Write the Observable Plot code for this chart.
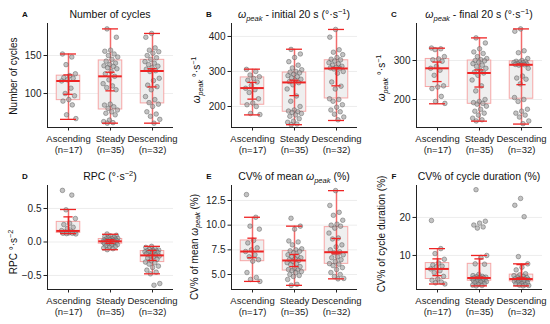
<!DOCTYPE html>
<html>
<head>
<meta charset="utf-8">
<script src="https://cdn.jsdelivr.net/npm/d3@7"></script>
<script src="https://cdn.jsdelivr.net/npm/@observablehq/plot@0.6"></script>
<style>
  html, body { margin: 0; padding: 0; background: #fff; }
  #chart { position: relative; width: 550px; height: 324px; background: #fff; overflow: hidden; }
  #chart svg { position: absolute; overflow: visible; }
</style>
</head>
<body>
<div id="chart"></div>
<script>
// ---------- data ----------
const categories = ["Ascending", "Steady", "Descending"];
const nLabels = ["(n=17)", "(n=35)", "(n=32)"];

// A: Number of cycles
const aAsc = [152,148,138,126,123.5,121,120,118,116.5,107,100,97,92,90,85,72,67];
const aSteady = [185,174,157,155.6,152,150,148,145,142.6,140,138,136.5,135.6,134,132.6,129,126,122.6,118,113,110,107.8,105,86,84.8,82.6,80.4,78.3,76,74,72,65,63,61.7,61];
const aDesc = [179,174,160,157,155,153,150,147,145,142,140,138,136,134,132,130,129,120,117,111,109,105,96,92,88,86,83,76,73,70,66,61];
// B: omega peak initial 20 s
const bAsc = [306,300,290,285,280,275,270,260,252,248,240,222,210,205,200,180,177];
const bSteady = [363,350,340,328,318,310,305,300,298,296,292,288,285,282,278,275,271,268,262,250,230,215,200,190,187,185,183,180,176,172,165,158,155,150,148];
const bDesc = [420,398,362,355,348,340,335,333,330,325,322,318,315,312,310,309,307,300,295,270,258,250,222,220,215,205,198,190,185,178,170,162];
// C: omega peak final 20 s
const cAsc = [332,330,328,310,304,302,298,285,280,275,262,235,232,228,208,195,190];
const cSteady = [358,345,330,322,318,310,305,302,300,299,296,292,288,285,280,275,270,268,262,250,235,222,200,195,192,190,188,183,175,170,165,160,152,148,145];
const cDesc = [381,375,325,320,305,300,298,297,296,295,294,292,291,290,290,289,288,280,260,255,252,240,205,200,195,175,170,165,160,155,145,138];
// D: RPC
const dAsc = [0.77,0.70,0.48,0.35,0.28,0.26,0.22,0.20,0.17,0.16,0.15,0.14,0.135,0.13,0.13,0.125,0.12];
const dSteady = [0.12,0.10,0.09,0.08,0.07,0.06,0.055,0.05,0.045,0.04,0.035,0.03,0.025,0.02,0.018,0.015,0.012,0.01,0.005,0,-0.005,-0.01,-0.015,-0.02,-0.022,-0.025,-0.03,-0.04,-0.05,-0.06,-0.07,-0.08,-0.09,-0.10,-0.115];
const dDesc = [-0.065,-0.08,-0.10,-0.11,-0.12,-0.125,-0.13,-0.135,-0.14,-0.145,-0.15,-0.155,-0.16,-0.17,-0.18,-0.195,-0.205,-0.21,-0.22,-0.24,-0.26,-0.28,-0.30,-0.31,-0.33,-0.36,-0.38,-0.42,-0.45,-0.475,-0.62,-0.645];
// E: CV% of mean omega peak
const eAsc = [13.1,10.8,9.9,9.6,8.45,8.2,7.7,7.5,7.33,7.0,6.8,6.5,6.35,5.2,4.7,4.5,4.3];
const eSteady = [10.7,9.9,9.6,8.4,8.3,8.0,7.6,7.5,7.4,7.35,7.2,7.0,6.9,6.8,6.7,6.6,6.5,6.42,6.3,6.2,6.1,6.0,5.8,5.6,5.5,5.45,5.4,5.3,5.2,5.0,4.9,4.8,4.5,4.0,3.9];
const eDesc = [13.5,12.0,11.3,11.0,10.5,10.1,10.0,9.9,9.7,9.2,8.7,8.6,8.0,7.8,7.5,7.3,7.2,7.0,6.8,6.7,6.5,6.3,6.1,6.05,5.9,5.7,5.5,5.2,5.0,4.8,4.6,4.56];
// F: CV% of cycle duration
const fAsc = [19.2,11.8,10.5,9.0,8.0,7.5,7.2,7.0,6.46,6.0,5.5,4.5,3.8,3.5,3.0,2.8,2.5];
const fSteady = [27.3,19.0,18.5,18.0,17.5,17.2,10.0,9.5,7.8,7.7,5.0,4.7,4.5,4.4,4.3,4.2,4.1,4.07,4.0,3.9,3.8,3.6,3.5,3.4,3.35,3.3,3.2,3.1,3.0,2.8,2.6,2.4,2.2,2.1,2.0];
const fDesc = [25.0,23.2,20.2,9.7,7.8,6.9,6.2,5.2,4.9,4.7,4.5,4.3,4.2,4.0,3.9,3.85,3.75,3.7,3.6,3.5,3.4,3.3,3.2,3.15,3.0,2.8,2.6,2.5,2.3,2.2,2.1,2.0];

// box summaries per group: [q1, median, q3, whiskerLow, whiskerHigh, barLow, barHigh]
const boxA = [[91.3,116.5,123.5,66,152,99,124.5],[79,122.6,143.5,61,185,103.5,128],[87,129.6,144.3,61,179,108.7,132.6]];
const boxB = [[205,252.6,283,176,306.6,221,268.7],[185,268.7,297,148,363.5,231,275],[223,308.5,332,160,420,259,311]];
const boxC = [[232,280,304,189,331.6,246,296],[189,268,300,144.5,358,232,276],[202,289,298,137,381,238,291]];
const boxD = [[0.135,0.165,0.30,0.125,0.485,0.165,0.375],[-0.025,0.01,0.045,-0.115,0.115,-0.02,0.035],[-0.30,-0.20,-0.135,-0.475,-0.065,-0.275,-0.125]];
const boxE = [[6.35,7.33,8.45,4.3,10.8,6.7,8.68],[5.4,6.42,7.37,3.9,9.9,5.8,7.03],[6.08,7.26,9.8,4.56,13.5,7.1,8.65]];
const boxF = [[3.8,6.46,8.0,2.5,11.8,4.7,9.1],[3.36,4.07,7.8,2.0,10.0,4.3,9.1],[3.2,3.8,4.96,2.0,7.8,4.1,7.6]];

// tick values
const ticksA = [100,150], ticksB = [200,300,400], ticksC = [200,300];
const ticksD = [-0.5,0,0.5], ticksE = [5,7.5,10,12.5], ticksF = [10,20];

// ---------- rendering ----------
const FONT = "'Liberation Sans', Arial, Helvetica, sans-serif";
const omega = [{t:"ω", it:true},{t:"peak", it:true, sub:true}];
const panels = [
  {letter:"A", title:[{t:"Number of cycles"}], ylabel:[{t:"Number of cycles"}],
   groups:[aAsc,aSteady,aDesc], box:boxA, domain:[55.3,192.1], ticks:ticksA, fmt:d3.format("d"),
   left:0, top:0, ylx:16.5, yly:76},
  {letter:"B", title:[...omega,{t:" - initial 20 s (°·s"},{t:"−1",sup:true},{t:")"}], ylabel:[...omega,{t:" °·s"},{t:"−1",sup:true}],
   groups:[bAsc,bSteady,bDesc], box:boxB, domain:[140,437], ticks:ticksB, fmt:d3.format("d"),
   left:184, top:0, ylx:16, yly:80},
  {letter:"C", title:[...omega,{t:" - final 20 s (°·s"},{t:"−1",sup:true},{t:")"}], ylabel:[...omega,{t:" °·s"},{t:"−1",sup:true}],
   groups:[cAsc,cSteady,cDesc], box:boxC, domain:[128.2,394.9], ticks:ticksC, fmt:d3.format("d"),
   left:369, top:0, ylx:16, yly:78},
  {letter:"D", title:[{t:"RPC (°·s"},{t:"−2",sup:true},{t:")"}], ylabel:[{t:"RPC °·s"},{t:"−2",sup:true}],
   groups:[dAsc,dSteady,dDesc], box:boxD, domain:[-0.709,0.843], ticks:ticksD, fmt:d3.format(".1f"),
   left:0, top:162, ylx:16.5, yly:90},
  {letter:"E", title:[{t:"CV% of mean "},...omega,{t:" (%)"}], ylabel:[{t:"CV% of mean "},...omega,{t:" (%)"}],
   groups:[eAsc,eSteady,eDesc], box:boxE, domain:[3.48,14.02], ticks:ticksE, fmt:d3.format(".1f"),
   left:184, top:162, ylx:13.5, yly:85},
  {letter:"F", title:[{t:"CV% of cycle duration (%)"}], ylabel:[{t:"CV% of cycle duration (%)"}],
   groups:[fAsc,fSteady,fDesc], box:boxF, domain:[1.05,28.4], ticks:ticksF, fmt:d3.format("d"),
   left:369, top:162, ylx:16, yly:72}
];

function rich(textSel, segs, fs) {
  let cur = 0;
  for (const s of segs) {
    const shift = s.sub ? fs * 0.28 : s.sup ? -fs * 0.4 : 0;
    const ts = textSel.append("tspan").text(s.t).attr("dy", shift - cur);
    cur = shift;
    if (s.sub || s.sup) ts.attr("font-size", fs * 0.72);
    if (s.it) ts.attr("font-style", "italic");
  }
}

const W = 183, H = 162, ML = 47, MR = 10, MT = 23, MB = 35;
const chart = document.getElementById("chart");
const red = "#ee2424";

for (const p of panels) {
  const boxes = p.box.map((b, i) => ({i, q1:b[0], med:b[1], q3:b[2], lo:b[3], hi:b[4], clo:b[5], chi:b[6]}));
  const pts = [];
  p.groups.forEach((vals, i) => vals.forEach((v, k) => {
    const j = (((k * 0.6180339887) + 0.17 * i + 0.1) % 1 - 0.5) * 0.36;
    pts.push({x: i + j, v});
  }));
  const capsOuter = boxes.flatMap(b => [{i:b.i, y:b.lo}, {i:b.i, y:b.hi}]);
  const capsInner = boxes.flatMap(b => [{i:b.i, y:b.clo}, {i:b.i, y:b.chi}]);
  const svg = Plot.plot({
    width: W, height: H, marginLeft: ML, marginRight: MR, marginTop: MT, marginBottom: MB,
    style: {fontFamily: FONT, fontSize: "9.5px", color: "#222", background: "transparent"},
    x: {domain: [-0.5, 2.5], axis: null},
    y: {domain: p.domain, axis: null},
    marks: [
      Plot.ruleY(p.ticks, {stroke: "#e9e9e9", strokeWidth: 0.8}),
      Plot.rect(boxes, {x1: d => d.i - 0.28, x2: d => d.i + 0.28, y1: "q1", y2: "q3",
        fill: "#efefef", stroke: "#f6a6a6", strokeWidth: 1}),
      Plot.ruleX(boxes, {x: "i", y1: "lo", y2: "hi", stroke: "#f36c6c", strokeWidth: 1.5}),
      Plot.dot(pts, {x: "x", y: "v", r: 2.3, fill: "#a3a3a3", fillOpacity: 0.65,
        stroke: "#555", strokeWidth: 0.6, strokeOpacity: 0.75}),
      Plot.ruleY(capsOuter, {y: "y", x1: d => d.i - 0.19, x2: d => d.i + 0.19, stroke: red, strokeWidth: 1.3}),
      Plot.ruleX(boxes, {x: "i", y1: "clo", y2: "chi", stroke: red, strokeWidth: 1.5}),
      Plot.ruleY(capsInner, {y: "y", x1: d => d.i - 0.11, x2: d => d.i + 0.11, stroke: red, strokeWidth: 1.3}),
      Plot.ruleY(boxes, {y: "med", x1: d => d.i - 0.28, x2: d => d.i + 0.28, stroke: red, strokeWidth: 2}),
      Plot.axisY({ticks: p.ticks, tickFormat: p.fmt, tickSize: 3.5, tickPadding: 2.5, label: null, fontSize: 10, stroke: "#222"}),
      Plot.axisX({ticks: [0,1,2], tickFormat: i => categories[i] + "\n" + nLabels[i], tickSize: 3.5, tickPadding: 2.5,
        label: null, fontSize: 9.5, lineHeight: 1.2, stroke: "#222"}),
      Plot.ruleX([-0.5], {stroke: "#222", strokeWidth: 1}),
      Plot.ruleY([p.domain[0]], {stroke: "#222", strokeWidth: 1})
    ]
  });
  svg.style.left = p.left + "px";
  svg.style.top = p.top + "px";
  const s = d3.select(svg);
  // panel letter
  s.append("text").attr("x", 25).attr("y", 16.8).attr("font-family", FONT).attr("font-weight", "bold")
    .attr("font-size", 8).attr("fill", "#111").text(p.letter);
  // title
  const t = s.append("text").attr("x", ML + (W - ML - MR) / 2).attr("y", 17.8).attr("text-anchor", "middle")
    .attr("font-family", FONT).attr("font-size", 10.5).attr("fill", "#111").style("white-space", "pre");
  rich(t, p.title, 10.5);
  // y label
  const yl = s.append("text").attr("transform", `translate(${p.ylx},${p.yly}) rotate(-90)`).attr("text-anchor", "middle")
    .attr("font-family", FONT).attr("font-size", 10).attr("fill", "#111").style("white-space", "pre");
  rich(yl, p.ylabel, 10);
  chart.appendChild(svg);
}
</script>
</body>
</html>
